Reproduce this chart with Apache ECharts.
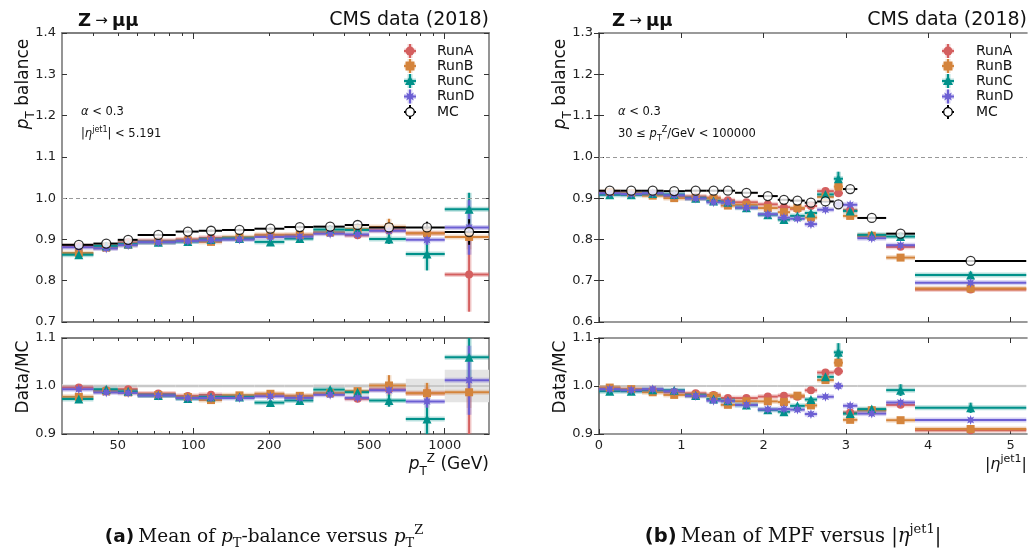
<!DOCTYPE html>
<html><head><meta charset="utf-8">
<script src="https://cdn.jsdelivr.net/npm/echarts@6/dist/echarts.min.js"></script>
<style>html,body{margin:0;padding:0;background:#fff}#c{width:1035px;height:556px}</style>
</head><body><div id="c"></div>
<script>
// ---------------- data: (a) pT balance vs pT^Z ----------------
const ptEdges   = [30, 40, 50, 60, 85, 105, 130, 175, 230, 300, 400, 500, 700, 1000, 1500];
const ptMC      = [0.887, 0.890, 0.899, 0.911, 0.919, 0.921, 0.923, 0.926, 0.930, 0.931, 0.935, 0.929, 0.929, 0.918];
const ptMCErr   = [0.003, 0.003, 0.003, 0.003, 0.003, 0.003, 0.003, 0.003, 0.003, 0.004, 0.004, 0.0065, 0.014, 0.031];
const ptRunA    = [0.884, 0.882, 0.893, 0.897, 0.900, 0.904, 0.903, 0.909, 0.910, 0.916, 0.910, 0.922, 0.915, 0.815];
const ptRunAErr = [0.002, 0.002, 0.002, 0.002, 0.002, 0.002, 0.002, 0.003, 0.003, 0.003, 0.004, 0.006, 0.012, 0.090];
const ptRunB    = [0.867, 0.880, 0.887, 0.894, 0.898, 0.894, 0.905, 0.911, 0.911, 0.917, 0.925, 0.930, 0.915, 0.906];
const ptRunBErr = [0.002, 0.002, 0.002, 0.002, 0.002, 0.002, 0.002, 0.003, 0.003, 0.003, 0.005, 0.020, 0.020, 0.030];
const ptRunC    = [0.863, 0.884, 0.889, 0.893, 0.895, 0.900, 0.902, 0.894, 0.902, 0.924, 0.923, 0.901, 0.865, 0.973];
const ptRunCErr = [0.003, 0.002, 0.002, 0.002, 0.002, 0.002, 0.002, 0.003, 0.003, 0.004, 0.006, 0.012, 0.040, 0.040];
const ptRunD    = [0.881, 0.878, 0.886, 0.893, 0.896, 0.898, 0.900, 0.906, 0.907, 0.914, 0.912, 0.921, 0.899, 0.929];
const ptRunDErr = [0.002, 0.002, 0.002, 0.002, 0.002, 0.002, 0.002, 0.003, 0.003, 0.003, 0.005, 0.008, 0.012, 0.066];

// ---------------- data: (b) MPF vs |eta^jet1| ----------------
const etaEdges   = [0, 0.261, 0.522, 0.783, 1.044, 1.305, 1.479, 1.653, 1.930, 2.172, 2.322, 2.500, 2.650, 2.853, 2.964, 3.139, 3.489, 3.839, 5.191];
const etaMC      = [0.918, 0.918, 0.918, 0.917, 0.918, 0.918, 0.918, 0.913, 0.905, 0.896, 0.894, 0.889, 0.892, 0.885, 0.922, 0.852, 0.814, 0.748];
const etaMCErr   = [0.002, 0.002, 0.002, 0.002, 0.002, 0.002, 0.002, 0.002, 0.002, 0.002, 0.002, 0.002, 0.002, 0.003, 0.002, 0.002, 0.002, 0.002];
const etaRunA    = [0.913, 0.911, 0.910, 0.905, 0.904, 0.901, 0.895, 0.890, 0.885, 0.878, 0.874, 0.881, 0.917, 0.912, 0.871, 0.809, 0.782, 0.679];
const etaRunAErr = [0.002, 0.002, 0.002, 0.002, 0.002, 0.002, 0.002, 0.002, 0.002, 0.002, 0.002, 0.002, 0.004, 0.008, 0.004, 0.003, 0.004, 0.003];
const etaRunB    = [0.915, 0.912, 0.906, 0.900, 0.900, 0.899, 0.882, 0.884, 0.876, 0.866, 0.876, 0.853, 0.903, 0.928, 0.857, 0.809, 0.756, 0.681];
const etaRunBErr = [0.002, 0.002, 0.002, 0.002, 0.002, 0.002, 0.002, 0.002, 0.002, 0.002, 0.002, 0.002, 0.004, 0.008, 0.004, 0.003, 0.004, 0.003];
const etaRunC    = [0.908, 0.908, 0.911, 0.909, 0.900, 0.893, 0.890, 0.877, 0.860, 0.848, 0.857, 0.864, 0.909, 0.947, 0.869, 0.811, 0.807, 0.714];
const etaRunCErr = [0.003, 0.003, 0.003, 0.003, 0.003, 0.003, 0.003, 0.003, 0.003, 0.003, 0.003, 0.004, 0.006, 0.017, 0.004, 0.004, 0.010, 0.008];
const etaRunD    = [0.912, 0.910, 0.912, 0.907, 0.899, 0.890, 0.889, 0.877, 0.861, 0.853, 0.850, 0.837, 0.872, 0.885, 0.884, 0.803, 0.786, 0.695];
const etaRunDErr = [0.002, 0.002, 0.002, 0.002, 0.002, 0.002, 0.002, 0.002, 0.002, 0.002, 0.002, 0.002, 0.004, 0.006, 0.004, 0.003, 0.004, 0.003];

// ---------------- tick labels ----------------
const ptTickLabels   = [50, 100, 200, 500, 1000];
const ptMajorTicks   = [100, 1000];
const ptMinorTicks   = [40, 50, 60, 70, 80, 90, 200, 300, 400, 500, 600, 700, 800, 900];
const etaTickLabels  = [0, 1, 2, 3, 4, 5];
const ptYTicks       = [0.7, 0.8, 0.9, 1.0, 1.1, 1.2, 1.3, 1.4];
const etaYTicks      = [0.6, 0.7, 0.8, 0.9, 1.0, 1.1, 1.2, 1.3];
const ratioYTicks    = [0.9, 1.0, 1.1];

const runNames = ['RunA', 'RunB', 'RunC', 'RunD', 'MC'];

// ---------------- styling ----------------
const FONT = 'DejaVu Sans', SERIF = 'DejaVu Serif';
const COL = { RunA: '#d45f5f', RunB: '#d4843c', RunC: '#00918a', RunD: '#6c5fd3', MC: '#000000' };
function starPts(cx, cy, R, r, n) {
  const p = [];
  for (let i = 0; i < 2 * n; i++) {
    const rr = i % 2 ? r : R, a = Math.PI * i / n - Math.PI / 2;
    p.push([cx + rr * Math.cos(a), cy + rr * Math.sin(a)]);
  }
  return p;
}
const starPath = 'path://' + starPts(0, 0, 10, 5, 8).map((q, i) => (i ? 'L' : 'M') + q[0].toFixed(2) + ' ' + q[1].toFixed(2)).join(' ') + ' Z';
const SYM = { RunA: ['circle', 8], RunB: ['rect', 8], RunC: ['triangle', 9], RunD: [starPath, 10], MC: ['circle', 9] };

function binData(edges, vals, errs, ref) {
  return vals.map((v, i) => {
    const s = ref ? ref[i] : 1;
    return [(edges[i] + edges[i + 1]) / 2, v / s, edges[i], edges[i + 1], errs[i] / s];
  });
}
function seg(a, b, stroke, w, op) {
  return { type: 'line', shape: { x1: a[0], y1: a[1], x2: b[0], y2: b[1] }, style: { stroke, lineWidth: w, opacity: op } };
}
function barSeries(data, color, xi, yi, halo) {
  return {
    type: 'custom', xAxisIndex: xi, yAxisIndex: yi, clip: true, silent: true, encode: { x: 0, y: 1 }, data,
    renderItem: (p, api) => {
      const x = api.value(0), y = api.value(1), lo = api.value(2), hi = api.value(3), e = api.value(4);
      const a = api.coord([lo, y]), b = api.coord([hi, y]), t = api.coord([x, y + e]), d = api.coord([x, y - e]);
      const ch = [];
      if (halo) { ch.push(seg(a, b, color, 5, 0.28)); ch.push(seg(t, d, color, 5, 0.28)); }
      ch.push(seg(a, b, color, 2, 1)); ch.push(seg(t, d, color, 2, 1));
      return { type: 'group', children: ch };
    }
  };
}
function bandSeries(data, xi, yi) {
  return {
    type: 'custom', xAxisIndex: xi, yAxisIndex: yi, clip: true, silent: true, encode: { x: 0, y: 1 }, data,
    renderItem: (p, api) => {
      const y = api.value(1), lo = api.value(2), hi = api.value(3), e = api.value(4);
      const a = api.coord([lo, y + e]), b = api.coord([hi, y - e]);
      const m1 = api.coord([lo, y]), m2 = api.coord([hi, y]);
      return { type: 'group', children: [
        { type: 'rect', shape: { x: a[0], y: a[1], width: b[0] - a[0], height: Math.max(1, b[1] - a[1]) }, style: { fill: '#e4e4e4' } },
        seg(m1, m2, '#c8c8c8', 2, 1)
      ] };
    }
  };
}
function markSeries(data, name, xi, yi, extra) {
  const isMC = name === 'MC';
  return Object.assign({
    type: 'scatter', xAxisIndex: xi, yAxisIndex: yi, silent: true, clip: true,
    data: data.map(d => [d[0], d[1]]), symbol: SYM[name][0], symbolSize: SYM[name][1],
    itemStyle: isMC ? { color: '#ffffff', borderColor: '#000', borderWidth: 1.3 } : { color: COL[name], opacity: 1 }
  }, extra || {});
}

// ---------------- axes ----------------
const frame = { show: true, lineStyle: { color: '#7a7a7a', width: 1.6 } };
const tickStyle = { color: '#333', width: 1 };
const labelStyle = { color: '#222', fontFamily: FONT, fontSize: 13 };
function xLog(grid, pos, ticks, len, labels) {
  return {
    type: 'log', logBase: 10, gridIndex: grid, position: pos, min: 30, max: 1500,
    axisLine: frame, splitLine: { show: false },
    axisTick: { show: true, inside: true, length: len, customValues: ticks, lineStyle: tickStyle },
    axisLabel: labels ? Object.assign({ show: true, margin: 5, customValues: labels, formatter: v => String(Math.round(v)) }, labelStyle) : { show: false }
  };
}
function xLin(grid, pos, labels) {
  return {
    type: 'value', gridIndex: grid, position: pos, min: 0, max: 5.2,
    axisLine: frame, splitLine: { show: false },
    axisTick: { show: true, inside: true, length: 5, customValues: etaTickLabels, lineStyle: tickStyle },
    axisLabel: labels ? Object.assign({ show: true, margin: 5, customValues: etaTickLabels, formatter: v => String(Math.round(v)) }, labelStyle) : { show: false }
  };
}
function yLin(grid, pos, mn, mx, ticks, labels) {
  return {
    type: 'value', gridIndex: grid, position: pos, min: mn, max: mx,
    axisLine: frame, splitLine: { show: false },
    axisTick: { show: true, inside: true, length: 5, customValues: ticks, lineStyle: tickStyle },
    axisLabel: labels ? Object.assign({ show: true, margin: 6, customValues: ticks, formatter: v => v.toFixed(1) }, labelStyle) : { show: false }
  };
}
const xAxis = [
  xLog(0, 'bottom', ptMajorTicks, 6, null), xLog(0, 'top', ptMajorTicks, 6, null),
  xLog(0, 'bottom', ptMinorTicks, 3, null), xLog(0, 'top', ptMinorTicks, 3, null),
  xLog(1, 'bottom', ptMajorTicks, 6, ptTickLabels), xLog(1, 'top', ptMajorTicks, 6, null),
  xLog(1, 'bottom', ptMinorTicks, 3, null), xLog(1, 'top', ptMinorTicks, 3, null),
  xLin(2, 'bottom', false), xLin(2, 'top', false),
  xLin(3, 'bottom', true), xLin(3, 'top', false)
];
const yAxis = [
  yLin(0, 'left', 0.7, 1.4, ptYTicks, true), yLin(0, 'right', 0.7, 1.4, ptYTicks, false),
  yLin(1, 'left', 0.9, 1.1, ratioYTicks, true), yLin(1, 'right', 0.9, 1.1, ratioYTicks, false),
  yLin(2, 'left', 0.6, 1.3, etaYTicks, true), yLin(2, 'right', 0.6, 1.3, etaYTicks, false),
  yLin(3, 'left', 0.9, 1.1, ratioYTicks, true), yLin(3, 'right', 0.9, 1.1, ratioYTicks, false)
];
const grid = [
  { left: 62, top: 33, width: 427, height: 289 },
  { left: 62, top: 338, width: 427, height: 96 },
  { left: 599, top: 33, width: 428, height: 289 },
  { left: 599, top: 338, width: 428, height: 96 }
];

// ---------------- series ----------------
const series = [];
const dashed = { silent: true, symbol: ['none', 'none'], label: { show: false }, animation: false,
  lineStyle: { type: [4, 3], color: '#999', width: 1 }, data: [{ yAxis: 1 }] };
function panel(edges, mc, mcErr, runs, xiTop, yiTop, xiRat, yiRat) {
  series.push(bandSeries(binData(edges, mc.map(() => 1), mcErr.map((e, i) => e / mc[i]), null), xiRat, yiRat));
  runs.forEach((r, k) => {
    const top = binData(edges, r.v, r.e, null), rat = binData(edges, r.v, r.e, mc);
    series.push(barSeries(top, COL[r.n], xiTop, yiTop, true));
    series.push(markSeries(top, r.n, xiTop, yiTop, k === 0 ? { markLine: dashed } : null));
    series.push(barSeries(rat, COL[r.n], xiRat, yiRat, true));
    series.push(markSeries(rat, r.n, xiRat, yiRat));
  });
  const mct = binData(edges, mc, mcErr, null);
  series.push(barSeries(mct, '#000', xiTop, yiTop, false));
  series.push(markSeries(mct, 'MC', xiTop, yiTop));
}
panel(ptEdges, ptMC, ptMCErr, [
  { n: 'RunA', v: ptRunA, e: ptRunAErr }, { n: 'RunB', v: ptRunB, e: ptRunBErr },
  { n: 'RunC', v: ptRunC, e: ptRunCErr }, { n: 'RunD', v: ptRunD, e: ptRunDErr }], 0, 0, 4, 2);
panel(etaEdges, etaMC, etaMCErr, [
  { n: 'RunA', v: etaRunA, e: etaRunAErr }, { n: 'RunB', v: etaRunB, e: etaRunBErr },
  { n: 'RunC', v: etaRunC, e: etaRunCErr }, { n: 'RunD', v: etaRunD, e: etaRunDErr }], 8, 4, 10, 6);

// ---------------- texts / legend ----------------
function T(x, y, text, st, rot) {
  const s = Object.assign({ text, x: 0, y: 0, fill: '#111', fontFamily: FONT, fontSize: 13,
    align: 'left', verticalAlign: 'middle', textAlign: 'left', textVerticalAlign: 'middle' }, st || {});
  if (st && st.align) s.textAlign = st.align;
  if (st && st.verticalAlign) s.textVerticalAlign = st.verticalAlign;
  return { type: 'text', x, y, rotation: rot || 0, silent: true, style: s };
}
function mathRich(fs, fam, lh) {
  const f = fam || FONT, L = lh || Math.round(fs * 1.45);
  return {
    n: { fontSize: fs, fontFamily: f, lineHeight: L, fill: '#111' },
    i: { fontSize: fs, fontFamily: f, fontStyle: 'italic', lineHeight: L, fill: '#111' },
    sb: { fontSize: Math.round(fs * 0.68), fontFamily: f, lineHeight: Math.round(fs * 0.68), verticalAlign: 'bottom', fill: '#111' },
    sp: { fontSize: Math.round(fs * 0.68), fontFamily: f, lineHeight: Math.round(fs * 0.68), verticalAlign: 'top', fill: '#111' },
    b: { fontSize: fs, fontFamily: FONT, fontWeight: 'bold', lineHeight: L, fill: '#111' }
  };
}
const legendRows = [51, 66, 81, 96.5, 112];
function legend(mx, tx) {
  const out = [];
  runNames.forEach((n, k) => {
    const y = legendRows[k], c = COL[n];
    if (n !== 'MC') {
      out.push({ type: 'line', silent: true, shape: { x1: mx - 6, y1: y, x2: mx + 6, y2: y }, style: { stroke: c, lineWidth: 5, opacity: 0.28 } });
      out.push({ type: 'line', silent: true, shape: { x1: mx, y1: y - 7, x2: mx, y2: y + 7 }, style: { stroke: c, lineWidth: 5, opacity: 0.28 } });
    }
    out.push({ type: 'line', silent: true, shape: { x1: mx - 6, y1: y, x2: mx + 6, y2: y }, style: { stroke: c, lineWidth: 2 } });
    out.push({ type: 'line', silent: true, shape: { x1: mx, y1: y - 7, x2: mx, y2: y + 7 }, style: { stroke: c, lineWidth: 2 } });
    if (n === 'RunA') out.push({ type: 'circle', silent: true, shape: { cx: mx, cy: y, r: 4.5 }, style: { fill: c } });
    if (n === 'RunB') out.push({ type: 'rect', silent: true, shape: { x: mx - 4.5, y: y - 4.5, width: 9, height: 9 }, style: { fill: c } });
    if (n === 'RunC') out.push({ type: 'polygon', silent: true, shape: { points: [[mx, y - 5.5], [mx + 5, y + 4], [mx - 5, y + 4]] }, style: { fill: c } });
    if (n === 'RunD') out.push({ type: 'polygon', silent: true, shape: { points: starPts(mx, y, 5.5, 2.8, 8) }, style: { fill: c } });
    if (n === 'MC') out.push({ type: 'circle', silent: true, shape: { cx: mx, cy: y, r: 4.3 }, style: { fill: '#fff', stroke: '#000', lineWidth: 1.3 } });
    out.push(T(tx, y, n, { fontSize: 14 }));
  });
  return out;
}
const R17 = mathRich(17), R12 = mathRich(11.5), RCa = mathRich(18.5, SERIF, 26), RCb = mathRich(19.5, SERIF, 27);
const RXe = mathRich(16);
const graphics = [
  // left
  T(78, 21, '{b|Z} {n|\u2192} {b|\u03bc\u03bc}', { rich: { b: { fontSize: 18, fontWeight: 'bold', fontFamily: FONT, fill: '#111' }, n: { fontSize: 15, fontFamily: FONT, fill: '#111' } } }),
  T(489, 20, 'CMS data (2018)', { fontSize: 19, align: 'right' }),
  T(24, 84, '{i|p}{sb|T}{n| balance}', { rich: R17, align: 'center' }, Math.PI / 2),
  T(24, 377, 'Data/MC', { fontSize: 17, align: 'center' }, Math.PI / 2),
  T(81, 112, '{i|\u03b1}{n| < 0.3}', { rich: R12 }),
  T(81, 134, '{n||}{i|\u03b7}{sp|jet1}{n|| < 5.191}', { rich: R12 }),
  T(489, 465, '{i|p}{sb|T}{sp|Z}{n| (GeV)}', { rich: R17, align: 'right' }),
  // right
  T(612, 21, '{b|Z} {n|\u2192} {b|\u03bc\u03bc}', { rich: { b: { fontSize: 18, fontWeight: 'bold', fontFamily: FONT, fill: '#111' }, n: { fontSize: 15, fontFamily: FONT, fill: '#111' } } }),
  T(1027, 20, 'CMS data (2018)', { fontSize: 19, align: 'right' }),
  T(561, 84, '{i|p}{sb|T}{n| balance}', { rich: R17, align: 'center' }, Math.PI / 2),
  T(561, 377, 'Data/MC', { fontSize: 17, align: 'center' }, Math.PI / 2),
  T(618, 112, '{i|\u03b1}{n| < 0.3}', { rich: R12 }),
  T(618, 134, '{n|30 \u2264 }{i|p}{sb|T}{sp|Z}{n|/GeV < 100000}', { rich: R12 }),
  T(1027, 465, '{n||}{i|\u03b7}{sp|jet1}{n||}', { rich: RXe, align: 'right' }),
  // captions
  T(264, 537, '{b|(a)} {n|Mean of }{i|p}{sb|T}{n|-balance versus }{i|p}{sb|T}{sp|Z}', { rich: RCa, align: 'center' }),
  T(793, 537, '{b|(b)} {n|Mean of MPF versus |}{i|\u03b7}{sp|jet1}{n||}', { rich: RCb, align: 'center' })
].concat(legend(410, 437), legend(948, 976));

const chart = echarts.init(document.getElementById('c'), null, { renderer: 'canvas' });
chart.setOption({
  animation: false,
  backgroundColor: '#ffffff',
  grid, xAxis, yAxis, series,
  graphic: graphics
});
</script>
</body></html>
